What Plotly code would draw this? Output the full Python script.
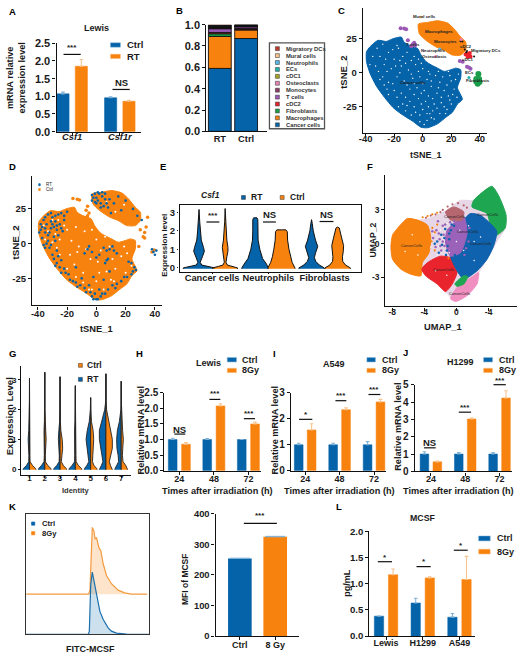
import plotly.graph_objects as go

BLUE = "#0563A9"; ORANGE = "#F8820E"; LBLUE = "#7FB2D6"; LORANGE = "#F8C48E"
FONT = "Liberation Sans"; INK = "#1a1a1a"

# ---------- data ----------
A_CATS = ["Csf1", "Csf1r"]
A_CTRL = [1.07, 0.96]; A_RT = [1.85, 0.86]
A_CTRL_ERR = [0.05, 0.03]; A_RT_ERR = [0.19, 0.03]

B_NAMES = ["Cancer cells", "Macrophages", "Fibroblasts", "cDC2", "T cells", "Monocytes", "Osteoclasts",
           "cDC1", "ECs", "Neutrophils", "Mural cells", "Migratory DCs"]
B_COLORS = ["#0563A9", "#F8820E", "#1B9E4B", "#E8202A", "#9B59B6", "#8B3A62", "#E984B8",
            "#A5A520", "#20B2AA", "#58B7E8", "#F5C68A", "#C0392B"]
B_RT = [.59, .30, .025, .012, .035, .006, .005, .005, .005, .005, .005, .006]
B_CTRL = [.87, .08, .005, .01, .015, .004, .003, .003, .003, .003, .002, .002]

CANCER_X = [-37, -31.3, -25.5, -20.8, -15, -13.2, -9.3, -3.5, -1.2, 2.3, 5.8, 10.4, 15, 19.7, 23.1, 26.6, 26.6, 24.3,
            27.8, 24.3, 20.8, 16.2, 10.4, 3.5, -1.2, -7, -15, -20.8, -26.6, -32.4, -37, -39.4, -39.4]
CANCER_Y = [19, 23.8, 23, 25, 26.2, 22.6, 20.2, 17.8, 13, 8.2, 5.8, 3.4, 1, 2.2, 3.4, 2.2, -3.8, -11, -19.5, -23, -29,
            -32.7, -37.5, -40.4, -40, -35.6, -30.3, -25.5, -18.3, -9.9, -0.2, 8.2, 15.4]
MACRO_X = [-3, 3.5, 10.4, 17.4, 22, 26.6, 30.1, 30.1, 26.6, 20.8, 15, 9.3, 2.3, -2.3]
MACRO_Y = [35.8, 37, 38.2, 36.5, 32.2, 26.2, 22.6, 16.6, 13, 13, 16.6, 19, 23.8, 28.6]
C_SPECKS = [(-30, 12), (-27, 6), (-33, 5), (-24, 15), (-20, 10), (-22, 3), (-17, 18), (-14, 12), (-11, 15), (-8, 9),
            (-15, 5), (-10, 2), (-5, 6), (-3, 10), (0, 3), (4, 1), (-28, -3), (-24, -7), (-18, -3), (-13, -6), (-7, -4),
            (-2, -3), (3, -5), (9, -2), (14, -3), (19, -2), (23, -5), (-20, -13), (-15, -15), (-9, -12), (-4, -11),
            (1, -13), (6, -10), (11, -11), (17, -9), (22, -12), (-14, -23), (-9, -21), (-3, -19), (2, -21), (7, -19),
            (13, -18), (18, -17), (24, -18), (-5, -29), (0, -27), (5, -30), (10, -26), (15, -25), (20, -23), (-2, -36),
            (3, -35), (-35, 12), (-25, -12), (-30, -5), (-18, 20), (8, -34), (-12, -28), (16, -30),
            (-37, 6), (-32, 18), (-28, 21), (-21, 17), (-26, 10), (-16, 9), (-12, 7), (-19, 5), (-6, 12), (-1, 7), (-31, 1),
            (-25, 1), (-16, 0), (-8, -1), (-3, 1), (5, -1), (11, 1), (18, 1), (25, -1), (-27, -9), (-21, -8), (-11, -9),
            (-6, -8), (0, -8), (6, -6), (12, -7), (20, -6), (-24, -16), (-18, -18), (-12, -18), (-6, -16), (-1, -15),
            (4, -17), (10, -15), (15, -13), (21, -16), (-17, -25), (-11, -24), (-6, -25), (-1, -23), (4, -25), (8, -23),
            (13, -22), (19, -20), (-8, -31), (-2, -31), (3, -30), (7, -28), (12, -30), (17, -27), (1, -38), (6, -33)]
C_TCELLS = [(-7, 21), (-5.5, 20), (-8, 19.5), (-6, 22), (-15.5, 32.7), (-11.6, 32), (-13, 32.5), (-10.4, 23.8),
            (32.4, 3.8), (31, 4.5), (33.5, 3), (26, 8.6), (28, 8)]
C_FIBRO = [(38.7, -5.8), (37.5, -6.5), (39.5, -4.5), (38.5, -8), (37.5, -4.5), (39.8, -6.8), (39, -1)]
C_CDC2 = [(32.4, 13), (31, 14), (33.5, 12), (31.5, 11.5), (30, 13.5), (33, 14.5)]
C_BLACK = [(27.8, 23), (26.5, 23.2), (29.5, 17), (30.5, 15), (31, 16), (36, 12)]
C_OTHER = [(32.4, -3.4), (27, 24.5), (-1.5, 41), (12, 17.5), (9, 12)]
C_OTHER_COL = ["#20B2AA", "#E984B8", "#F5C68A", "#58B7E8", "#E984B8"]
C_LABELS = ["Mural cells", "Macrophages", "Monocytes", "T cells", "Neutrophils", "Osteoclasts", "cDC2",
            "Migratory DCs", "cDC1", "ECs", "Fibroblasts", "Cancer cells"]
C_LABEL_X = [1, 11.5, 16, -7, 7, 8, 30.5, 44, 32, 32.5, 38.5, -6.5]
C_LABEL_Y = [41, 30, 23, 20.5, 16.5, 12, 19.5, 16, 10, 0, -6, -7]

D_BLUE = [(-36, 17), (-34, 14), (-38, 10), (-35, 8), (-37, 4), (-33, 2), (-32, -3), (-36, -1), (-30, 19), (-28, 16),
          (-26, 21), (-31, 11), (-27, 10), (-29, 5), (-25, 14), (-22, 20), (-20, 23), (-23, 9), (-30, -8), (-27, -5),
          (-24, -12), (-27, -14), (-22, -18), (-19, -22), (-24, -21), (-16, -27), (-13, -31), (-10, -25), (-7, -35),
          (-3, -38), (0, -40), (3, -38), (2, -33), (6, -36), (-5, -30), (11, -30), (14, -29), (19, -24), (25, -20),
          (27, -19), (22, -13), (7, -12), (5, -3), (11, -2), (14, -7), (-5, -2), (-8, -7), (2, -8), (-14, -17),
          (-2, -24), (9, -20), (5, -26), (-33, 6), (-31, 16), (-38, 14), (-34, 0), (-29, 12),
          (-35, 19), (-33, 21), (-31, 22), (-28, 20), (-24, 22), (-22, 17), (-37, 12), (-39, 8), (-35, 11), (-32, 8),
          (-30, 14), (-27, 13), (-24, 11), (-28, 2), (-26, 6), (-31, -1), (-35, -3), (-29, -11), (-26, -9), (-28, -16),
          (-25, -17), (-21, -21), (-18, -26), (-14, -28), (-11, -30), (-8, -32), (-4, -35), (-1, -36), (1, -40), (4, -36),
          (-2, -40), (8, -33), (13, -32), (17, -27), (21, -24), (24, -22), (26, -17), (24, -14), (7, -5), (9, -4), (12, -5),
          (6, -14), (8, -11), (-6, -4), (-3, -6), (0, -10),
          (-3, 35), (0, 33), (-1, 30), (2, 36), (4, 34), (3, 29), (6, 36), (9, 32), (5, 27), (12, 29), (15, 34),
          (20, 31), (25, 25), (28, 20), (31, 17), (17, 24), (10, 22), (8, 26), (-2, 33), (1, 37), (-3, 31),
          (-1, 36), (1, 31), (4, 37), (6, 32), (7, 29), (3, 26), (0, 29), (39, -6), (38, -4), (40, -8), (41, -5)]
D_ORANGE_EXTRA = [(-16, 32.5), (-13, 32), (-11.5, 31.5), (-6, 27), (-5, 22), (-7, 24), (-6, 20), (38, -6), (39.5, -4.5),
                  (32, 5), (33, 4), (29, -2), (33, 8), (30, 10), (34, 12), (35, 19)]
D_WHITE = [(-20, 10), (-14, 12), (-8, 9), (-3, 10), (0, 3), (-13, -6), (-7, -4), (3, -5), (9, -2), (19, -2),
           (-15, -15), (-4, -11), (1, -13), (11, -11), (17, -9), (-9, -21), (2, -21), (13, -18), (0, -27), (10, -26),
           (6, 5), (4, 8), (13, 23), (19, 28), (7, 30), (-25, 3), (-18, -8), (-30, 1), (-5, -33), (21, -7),
           (-36, 13), (-33, 9), (-28, 7), (-30, 17), (-26, 17), (-35, 3), (-27, -3), (-25, -8), (-20, -18), (-14, -24),
           (-9, -28), (-3, -33), (5, -33), (12, -27), (20, -21), (24, -16), (-12, -2), (-22, 13), (-17, 2), (7, -20)]

E_CATS = ["Cancer cells", "Neutrophils", "Fibroblasts"]
E_PROFILES = [
    ([-.05, 0, .08, .15, .3, .6, .9, 1.1, 1.5, 2, 2.5, 3.15], [.28, .28, .16, .05, .02, .06, .095, .08, .04, .025, .012, 0]),
    ([-.05, 0, .08, .15, .3, .6, .9, 1.1, 1.5, 2, 2.5, 3.2], [.22, .22, .12, .04, .015, .03, .05, .05, .03, .015, .008, 0]),
    ([-.05, 0, .2, .5, 1, 1.5, 2, 2.6, 2.7, 2.7], [.24, .24, .2, .13, .08, .05, .045, .045, .03, 0]),
    ([-.05, 0, .3, .6, 1, 1.5, 1.95, 2.05, 2.05], [.24, .24, .19, .16, .135, .11, .105, .08, 0]),
    ([-.05, 0, .15, .35, .55, .8, 1.15, 1.5, 2, 2.4, 2.6], [.225, .225, .14, .075, .05, .07, .11, .07, .03, .012, 0]),
    ([-.05, 0, .15, .35, .6, .9, 1.2, 1.6, 2.0, 2.15, 2.2], [.225, .225, .14, .09, .085, .1, .105, .075, .04, .03, 0]),
]

F_CLUSTERS = [
    ("#E6D6E6", [-7.33, -6.09, -4.86, -3.62, -1.36, 0.49, 2.14, 4.4, 5.23, 6.17, 6.05, 5.02, 3.79, 2.76, 1.32, -0.12, -1.36, -4.32, -5.68, -7.94, -8.15],
     [1.37, 2.24, 2.1, 2.2, 2.9, 3.85, 3.85, 5.1, 4.29, 2.54, 1.37, 0.2, -1.4, -2.57, -4.61, -5.13, -4.26, -2.3, -2.71, -1.4, -0.23]),
    ("#F8820E", [-7.33, -6.09, -4.86, -3.62, -3.21, -3.42, -4.24, -4.44, -5.68, -6.91, -7.94, -8.15, -7.94],
     [1.37, 2.24, 2.1, 1.66, 0.64, -0.82, -1.69, -2.86, -2.71, -2.27, -1.4, -0.23, 0.79]),
    ("#E9242C", [-3.62, -1.98, -0.12, 0.08, -0.53, -1.36, -2.39, -3.83, -4.32], [-1.69, -1.11, -1.4, -2.57, -3.59, -4.26, -3.59, -2.86, -2.27]),
    ("#F08FC0", [-0.74, 0.08, 2.14, 2.76, 2.55, 1.32, -0.12], [-4.9, -3.88, -2.86, -2.57, -3.59, -4.61, -5.13]),
    ("#1FA650", [2.14, 4.4, 5.23, 6.17, 6.05, 4.61, 3.79, 1.93], [3.85, 5.1, 4.29, 2.54, 1.37, 0.64, 2.68, 3.27]),
    ("#0F62AE", [1.73, 2.96, 4.2, 5.02, 4.61, 3.79, 2.55, 0.91, 0.08, -0.74, -0.53, 0.08, 0.91],
     [2.68, 2.54, 1.81, 1.08, -0.23, -1.4, -2.42, -3.15, -2.42, -1.11, -0.23, 0.93, 2.1]),
    ("#9A62B8", [-1.15, 0.91, 1.32, 0.49, -0.74, -1.36], [1.22, 2.39, 0.93, -0.82, -1.11, 0.06]),
    ("#B5666F", [-1.36, -0.33, 0.91, 0.7, -0.74], [2.83, 3.27, 2.83, 2.1, 2.1]),
    ("#1FA650", [-0.2, 0.91, 1.4, 0.91, 0.08], [-3.59, -2.86, -2.92, -3.59, -3.79]),
]
F_SPECKS_PURPLE = [(-2.5, 1.2), (-2.1, 0.4), (-1.7, 1.6), (-2.6, -0.3), (-1.9, -0.6), (-2.9, 0.5), (-1.6, 0.8), (-2.3, 2.0), (-1.5, -0.2), (-3, 1.1),
                   (-2.0, -0.2), (-1.7, 0.2), (-2.2, 0.9), (-1.4, 1.7), (-0.8, 1.9), (-0.3, 2.0), (1.5, 0.2), (1.2, -0.4), (1.6, 1.4), (1.0, -1.0)]
F_SPECKS_BLUE = [(-1.2, -0.6), (-0.9, 0.4), (-0.7, 1.2), (-1.8, -0.1), (-1.4, 1.3), (-0.3, 1.6), (-2.2, -0.8), (-0.2, -1.0), (-2.7, 0.0),
                 (-1.5, 0.5), (-1.1, -0.2), (-0.9, 0.9), (-1.9, 0.8), (-1.3, -1.0), (-0.6, 1.7), (-0.2, -1.4), (0.1, -1.7), (0.3, -2.1), (-2.4, 0.2)]
F_SPECKS_ORANGE = [(-3.1, 0.2), (-3.0, 1.4), (-2.7, -0.6), (-2.4, 1.7), (-4.2, 2.35), (-3.6, 2.45), (-3.0, 2.6), (-2.4, 2.75), (-2.7, 1.0), (-1.0, -1.3)]
F_SPECKS_MAUVE = [(-3.8, 2.3), (-3.2, 2.5), (-2.6, 2.6), (-2.0, 2.8), (-1.7, 3.0), (-1.1, 3.3), (0.2, 3.6), (0.9, 3.4), (1.3, 3.2), (-0.5, 3.5)]
F_SPECKS_WHITE = [(-2.8, 0.9), (-2.2, -0.2), (-1.6, 0.3), (-2.0, 1.2), (-1.2, 1.8), (-3.2, -0.3), (-2.4, -1.0), (-0.9, -0.8),
                  (0.4, 1.2), (0.0, 0.2), (0.9, -0.6), (2.2, -1.5), (1.5, 1.6), (3, 0.6), (2.2, 0.2), (-5.5, 0.8), (-6.4, -0.7),
                  (-4.8, -1), (-2.6, -2.4), (-1.2, -2.8)]
F_LABEL_X = [-5.6, -0.3, 3.8, 1.4, 3.0, -1.6, 0.4]
F_LABEL_Y = [-0.1, 2.4, 2.65, 1.08, 0.05, -2.3, -4.4]

G_LEVELS = [-.02, .02, .12, .25, .45, .7, 1.0, 1.3, 1.6, 2.0, 2.3]
G_TOPS = [3.05, 3.25, 3.1, 2.8, 2.4, 3.2, 2.95]
G_RT = [[.42, .40, .2, .05, .04, .05, .09, .05, .025, .012, .006],
        [.42, .40, .22, .05, .03, .04, .05, .05, .025, .012, .006],
        [.42, .40, .22, .06, .05, .08, .11, .08, .03, .015, .006],
        [.42, .40, .22, .05, .04, .05, .08, .05, .025, .012, .006],
        [.42, .40, .25, .12, .17, .25, .3, .22, .09, .02, .006],
        [.42, .40, .3, .2, .26, .34, .43, .43, .3, .08, .01],
        [.42, .40, .3, .17, .2, .28, .3, .25, .12, .02, .006]]
G_CTRL = [[.42, .40, .2, .04, .03, .03, .03, .02, .012, .008, .004],
          [.42, .40, .2, .04, .03, .06, .09, .06, .02, .01, .005],
          [.42, .40, .22, .08, .12, .17, .14, .05, .02, .01, .005],
          [.42, .40, .2, .05, .04, .04, .05, .03, .02, .01, .005],
          [.42, .40, .22, .12, .14, .16, .2, .16, .05, .012, .004],
          [.42, .40, .3, .22, .3, .42, .42, .3, .16, .04, .008],
          [.42, .40, .3, .12, .08, .1, .14, .09, .05, .015, .005]]

TIMES = ["24", "48", "72"]
H_CTRL = [1.0, 1.0, 1.0]; H_GY = [0.85, 2.08, 1.5]; H_CTRL_ERR = [.04, .03, .0]; H_GY_ERR = [.05, .07, .06]
I_CTRL = [1.0, 1.0, 1.0]; I_GY = [1.57, 2.35, 2.65]; I_CTRL_ERR = [.06, .06, .12]; I_GY_ERR = [.24, .07, .1]
J_CTRL = [1.0, 1.0, 1.0]; J_GY = [.55, 3.02, 4.23]; J_CTRL_ERR = [.13, .08, .08]; J_GY_ERR = [.04, .05, .42]

K_BLUE_X = [0, 50.7, 51.5, 52.6, 53.9, 55.3, 57.4, 60.1, 62.8, 66.8, 69.5, 73.6, 81.7, 100]
K_BLUE_Y = [0, 0, 2.7, 40.9, 51.8, 43.6, 32.7, 19.1, 12.3, 5.4, 2.7, 1.1, .3, 0]
K_OR_X = [0, 50.9, 52, 52.8, 53.9, 55.3, 56.1, 57.4, 59.3, 60.9, 62.8, 65.5, 69.5, 74.9, 80.3, 85.7, 98.6]
K_OR_Y = [33.5, 33.5, 36.8, 68.1, 89.1, 85.8, 79.6, 80.4, 72.2, 69.5, 58.6, 49, 42.2, 36.8, 34.6, 33.5, 33.5]
K_CATS = ["Ctrl", "8 Gy"]; K_MFI = [254, 325]; K_MFI_ERR = [1, 1.5]

L_CATS = ["Lewis", "H1299", "A549"]
L_CTRL = [.38, .63, .36]; L_GY = [1.17, 1.11, 1.08]; L_CTRL_ERR = [0, .09, .07]; L_GY_ERR = [.11, .02, .44]

# ---------- helpers ----------
W, H = 520, 660
fig = go.Figure()
layout = dict(width=W, height=H, margin=dict(l=0, r=0, t=0, b=0), paper_bgcolor="white", plot_bgcolor="white",
              showlegend=False, barmode="overlay", font=dict(family=FONT, color=INK))
annots, shapes = [], []
_n = [0]

def T(px, py, text, size=9, anchor="center", angle=0, bold=True, color=INK, italic=False):
    annots.append(dict(xref="paper", yref="paper", x=px / W, y=1 - py / H, text=text, showarrow=False, xanchor=anchor,
                       yanchor="middle", textangle=angle, align="center",
                       font=dict(family=FONT, size=size, color=color, weight=700 if bold else 400,
                                 style="italic" if italic else "normal")))

def R(x0, y0, x1, y1, fill, line=None, lw=0.7):
    shapes.append(dict(type="rect", xref="paper", yref="paper", x0=x0 / W, x1=x1 / W, y0=1 - y0 / H, y1=1 - y1 / H,
                       fillcolor=fill, line=dict(color=line or fill, width=lw), layer="above"))

def Ln(x0, x1, y, color="#111", lw=1.2):
    shapes.append(dict(type="line", xref="paper", yref="paper", x0=x0 / W, x1=x1 / W, y0=1 - y / H, y1=1 - y / H,
                       line=dict(color=color, width=lw), layer="above"))

def Sig(x0, x1, ly, text, ty):
    Ln(x0, x1, ly)
    T((x0 + x1) / 2, ty, text, size=9.5 if text == "NS" else 8)

def axes(L, Rt, Top, Bot, xr, yr, xt=None, xl=None, yt=None, yl=None, tick=9.5, mirror=False, xital=False, noticks=False,
         stand=0, xtick=None, tlen=3):
    _n[0] += 1
    s = "" if _n[0] == 1 else str(_n[0])
    tf = dict(family=FONT, size=tick, color=INK, weight=700)
    common = dict(showgrid=False, zeroline=False, showline=True, linecolor="#111", linewidth=1.4, ticks="outside",
                  ticklen=tlen, tickwidth=1.2, tickcolor="#111", tickfont=tf, mirror=mirror, fixedrange=True, tickangle=0)
    xa = dict(common, domain=[L / W, Rt / W], range=xr, anchor="y" + s, tickmode="array", tickvals=xt, ticktext=xl)
    ya = dict(common, domain=[1 - Bot / H, 1 - Top / H], range=yr, anchor="x" + s, tickmode="array", tickvals=yt, ticktext=yl)
    xa["tickfont"] = dict(tf, size=xtick or tick)
    if xital:
        xa["tickfont"] = dict(xa["tickfont"], style="italic")
    if noticks:
        for a in (xa, ya):
            a.update(ticks="", showticklabels=False)
    if stand:
        xa["ticklabelstandoff"] = stand
    layout["xaxis" + s] = xa
    layout["yaxis" + s] = ya
    return "x" + s, "y" + s

def grouped(ctrl, other, cerr, oerr, L, Rt, Top, Bot, c0, sp, bw, off, yr, yt, yl, xl, **kw):
    xr = [(L - c0) / sp, (Rt - c0) / sp]
    xa, ya = axes(L, Rt, Top, Bot, xr, yr, list(range(len(xl))), xl, yt, yl, **kw)
    for vals, err, col, ecol, sign in ((ctrl, cerr, BLUE, LBLUE, -1), (other, oerr, ORANGE, LORANGE, 1)):
        fig.add_trace(go.Bar(x=[i + sign * off / sp for i in range(len(vals))], y=vals, width=bw / sp, xaxis=xa, yaxis=ya,
                             marker=dict(color=col, line=dict(color=col, width=0.5)),
                             error_y=dict(type="data", array=err, symmetric=False, arrayminus=[0] * len(err),
                                          color=ecol, thickness=1.1, width=1.8)))

def blob(xs, ys, col, xa, ya, lw=0):
    fig.add_trace(go.Scatter(x=xs + xs[:1], y=ys + ys[:1], mode="lines", fill="toself", fillcolor=col, xaxis=xa, yaxis=ya,
                             line=dict(color=col, width=lw, shape="spline", smoothing=0.6), hoverinfo="skip"))

def dots(pts, col, xa, ya, size=2.0, sym="circle"):
    fig.add_trace(go.Scatter(x=[p[0] for p in pts], y=[p[1] for p in pts], mode="markers", xaxis=xa, yaxis=ya,
                             marker=dict(color=col, size=size, symbol=sym, line=dict(width=0)), hoverinfo="skip"))

def pair_legend(xr0, xr1, tx, y1, y2, label2, size=9.5, h=4.5):
    R(xr0, y1 - h / 2, xr1, y1 + h / 2, BLUE, LBLUE, 0.5)
    R(xr0, y2 - h / 2, xr1, y2 + h / 2, ORANGE, LORANGE, 0.5)
    T(tx, y1, "Ctrl", size=size, anchor="left")
    T(tx, y2, label2, size=size, anchor="left")

# ---------- A ----------
grouped(A_CTRL, A_RT, A_CTRL_ERR, A_RT_ERR, 53, 138, 38, 128, 68.7, 48, 12.3, 9.25, [0, 2.5],
        [0, .5, 1, 1.5, 2, 2.5], ["0.0", "0.5", "1.0", "1.5", "2.0", "2.5"], A_CATS, xital=True, tick=11, xtick=9.3, stand=-7)
T(93, 22, "Lewis", 9)
T(12, 73, "mRNA relative<br>expression level", 9.2, angle=-90)
pair_legend(107.3, 117.3, 122, 39.7, 51.3, "RT", 9.5)
Sig(60, 77.3, 49.3, "***", 42)
Sig(109.3, 126.7, 85, "NS", 78.3)

# ---------- B ----------
xa, ya = axes(204, 265, 19, 127.7, [(204 - 217.5) / 26.5, (265 - 217.5) / 26.5], [0, 1],
              [0, 1], ["RT", "Ctrl"], [0, .2, .4, .6, .8, 1], ["0.0", "0.2", "0.4", "0.6", "0.8", "1.0"], tick=11, xtick=9.3, stand=-2)
layout[xa.replace("x", "xaxis")]["ticklen"] = 0
cum = [0, 0]
for name, col, r, c in zip(B_NAMES, B_COLORS, B_RT, B_CTRL):
    fig.add_trace(go.Bar(x=[0, 1], y=[r, c], base=list(cum), width=23 / 26.5, xaxis=xa, yaxis=ya, name=name,
                         marker=dict(color=col, line=dict(color="#111", width=0.9))))
    cum = [cum[0] + r, cum[1] + c]
R(267.5, 37.5, 323, 125, "white", "#555", 1.3)
for i, (name, col) in enumerate(zip(B_NAMES, B_COLORS)):
    y = 121 - i * 7.05
    R(273.5, y - 2, 277.5, y + 2, col, "#444", 0.6)
    T(282, y, name, 5.8, anchor="left", color="#333")

# ---------- C ----------
xa, ya = axes(361.7, 486.7, 2, 129, [-41.9, 45], [-44, 47.6], [-40, -20, 0, 20, 40], ["-40", "-20", "0", "20", "40"],
              [-25, 0, 25], ["-25", "0", "25"], tick=9.5, stand=-6)
blob(CANCER_X, CANCER_Y, BLUE, xa, ya, 1)
blob(MACRO_X, MACRO_Y, ORANGE, xa, ya, 1)
dots(C_SPECKS, "white", xa, ya, 1.4)
dots(C_TCELLS, "#9B59B6", xa, ya, 4)
dots(C_FIBRO, "#1B9E4B", xa, ya, 6)
dots(C_CDC2, "#E8202A", xa, ya, 4)
dots(C_BLACK, "#111", xa, ya, 2)
for p, col in zip(C_OTHER, C_OTHER_COL):
    dots([p], col, xa, ya, 3)
for t, x, y in zip(C_LABELS, C_LABEL_X, C_LABEL_Y):
    px = 422 + x * 1.44
    py = 68 - y * 1.386
    T(px, py, t, 4.3, color="#222")
T(425, 152, "tSNE_1", 9)
T(342.7, 68, "tSNE_2", 9.5, angle=-90)

# ---------- D ----------
xa, ya = axes(28.3, 159, 173, 305, [-43.9, 44.7], [-44.5, 48.8], [-40, -20, 0, 20, 40], ["-40", "-20", "0", "20", "40"],
              [-25, 0, 25], ["-25", "0", "25"], tick=9.5, stand=-4)
blob(CANCER_X, CANCER_Y, ORANGE, xa, ya, 1)
blob(MACRO_X, MACRO_Y, ORANGE, xa, ya, 1)
dots(D_ORANGE_EXTRA, ORANGE, xa, ya, 3.5)
dots(D_WHITE, "white", xa, ya, 2)
dots(D_BLUE, BLUE, xa, ya, 2.6)
R(35, 181, 36.5, 183, BLUE)
R(35, 186, 36.5, 188, ORANGE)
T(40, 182, "RT", 4.5, anchor="left", bold=False)
T(40, 187, "Ctrl", 4.5, anchor="left", bold=False)
T(93, 329, "tSNE_1", 9.3)
T(12, 240, "tSNE_2", 9.8, angle=-90)

# ---------- E ----------
E_SP = 56.7
xa, ya = axes(177, 360, 202.7, 270.7, [(177 - 209.7) / E_SP, (360 - 209.7) / E_SP], [-0.21, 3.39], [0, 1, 2], E_CATS,
              [0, 1, 2, 3], ["0", "1", "2", "3"], tick=9.5, xtick=9.3, mirror=True, stand=-5, tlen=1.5)
for i, (ys, ws) in enumerate(E_PROFILES):
    c = i // 2 + (-0.232 if i % 2 == 0 else 0.232)
    col = BLUE if i % 2 == 0 else ORANGE
    fig.add_trace(go.Scatter(x=[c - w for w in ws] + [c + w for w in ws[::-1]], y=ys + ys[::-1], mode="lines", fill="toself",
                             fillcolor=col, line=dict(color="#111", width=1), xaxis=xa, yaxis=ya, hoverinfo="skip"))
T(208, 193, "Csf1", 8.5, italic=True)
R(239.3, 193, 243.3, 197, BLUE, "#333", 0.5); T(247, 195, "RT", 8.5, anchor="left")
R(278.3, 193, 282.3, 197, ORANGE, "#333", 0.5); T(286, 195, "Ctrl", 8.5, anchor="left")
Sig(204, 217, 220, "***", 213)
Sig(261, 274, 220, "NS", 212)
Sig(318, 332, 219.5, "NS", 212)
T(161.5, 244, "Expression level", 8, angle=-90)

# ---------- F ----------
xa, ya = axes(384.3, 516.7, 172, 306, [-8.85, 7.5], [-5.58, 6.12], [-8, -4, 0, 4], ["-8", "-4", "0", "-4"],
              [-3, 0, 3], ["-3", "0", "3"], tick=8.5, stand=-6)
for col, xs, ys in F_CLUSTERS:
    blob(xs, ys, col, xa, ya, 1)
dots(F_SPECKS_WHITE, "white", xa, ya, 1.5)
dots(F_SPECKS_PURPLE, "#9A62B8", xa, ya, 2.5)
dots(F_SPECKS_BLUE, "#0F62AE", xa, ya, 2.5)
dots(F_SPECKS_ORANGE, "#F8820E", xa, ya, 2.2)
dots(F_SPECKS_MAUVE, "#B5666F", xa, ya, 2.2)
for x, y in zip(F_LABEL_X, F_LABEL_Y):
    T(456 + x * 8.1, 242.3 - y * 11.45, "CancerCells", 3.9, color="#222", bold=False)
T(442.7, 327, "UMAP_1", 9.3)
T(371.7, 238, "UMAP_2", 8.6, angle=-90)

# ---------- G ----------
xa, ya = axes(17.3, 128.3, 366.7, 477.3, [0.455, 7.66], [-0.185, 3.46], [1, 2, 3, 4, 5, 6, 7], list("1234567"),
              [0, 1, 2, 3], ["0", "1", "2", "3"], tick=8, stand=-6, tlen=2)
for i in range(7):
    c = i + 1
    ys = G_LEVELS + [G_TOPS[i]]
    for ws, col, sign in ((G_RT[i], BLUE, -1), (G_CTRL[i], ORANGE, 1)):
        ww = ws + [0]
        fig.add_trace(go.Scatter(x=[c + sign * w for w in ww] + [c], y=ys + [ys[0]], mode="lines", fill="toself",
                                 fillcolor=col, line=dict(color="#222", width=0.9), xaxis=xa, yaxis=ya, hoverinfo="skip"))
R(75, 364, 79, 368, ORANGE, "#333", 0.5); T(82, 366, "Ctrl", 8.5, anchor="left")
R(75, 378.3, 79, 382.3, BLUE, "#333", 0.5); T(82, 380.3, "RT", 8.5, anchor="left")
T(72, 493, "Identity", 7.5, color="#333")
T(5, 418, "Expression Level", 9.5, angle=-90)

# ---------- H / I / J ----------
grouped(H_CTRL, H_GY, H_CTRL_ERR, H_GY_ERR, 161.7, 259, 394, 473.3, 176.7, 34.8, 8.8, 6.7, [0, 2.5],
        [0, .5, 1, 1.5, 2, 2.5], ["0.0", "0.5", "1.0", "1.5", "2.0", "2.5"], TIMES, tick=10, xtick=9, stand=-4)
T(205.7, 364, "Lewis", 9)
pair_legend(225, 234.3, 238, 360.3, 371.2, "8Gy", 9)
Sig(171.7, 182.7, 436, "NS", 431)
Sig(207, 218, 400.7, "***", 395)
Sig(241.7, 253, 420.3, "***", 415)
T(215, 494, "Times after irradiation (h)", 9.2)
T(137.7, 431.7, "Relative mRNA level", 9.2, angle=-90)

grouped(I_CTRL, I_GY, I_CTRL_ERR, I_GY_ERR, 289.3, 385, 394, 473.3, 303.5, 34.7, 8.8, 6.5, [0, 3],
        [0, 1, 2, 3], ["0", "1", "2", "3"], TIMES, tick=10, xtick=9, stand=-4)
T(332.7, 365, "A549", 9)
pair_legend(365.7, 374.3, 379.3, 360.3, 371.2, "8Gy", 9)
Sig(297.3, 310.7, 421, "*", 416.5)
Sig(334, 345, 402, "***", 397)
Sig(367.3, 379.3, 395.7, "***", 390.5)
T(338, 494, "Times after irradiation (h)", 9.2)
T(272.7, 431.7, "Relative mRNA level", 9.2, angle=-90)

grouped(J_CTRL, J_GY, J_CTRL_ERR, J_GY_ERR, 414, 511.7, 385.7, 474, 430.2, 34.6, 8.7, 6.5, [0, 5],
        [0, 1, 2, 3, 4, 5], ["0", "1", "2", "3", "4", "5"], TIMES, tick=10, xtick=9, stand=-4)
T(460, 363, "H1299", 9)
pair_legend(483.3, 492.3, 497.3, 360.3, 371.2, "8Gy", 9)
Sig(423.3, 435, 450, "NS", 445)
Sig(458.3, 470.7, 413.7, "***", 409)
Sig(493.3, 505.7, 385.7, "***", 381)
T(458, 494, "Times after irradiation (h)", 9.2)
T(397.7, 428, "Relative mRNA level", 9.2, angle=-90)

# ---------- K histogram ----------
xa, ya = axes(22.3, 146, 517.7, 640, [0, 100], [0, 100], mirror=True, noticks=True)
layout["xaxis" + xa[1:]]["linecolor"] = "#333"
layout["yaxis" + ya[1:]]["linecolor"] = "#333"
fig.add_trace(go.Scatter(x=K_OR_X, y=K_OR_Y, mode="lines", fill="toself", fillcolor="rgba(248,130,14,0.22)",
                         line=dict(color="#F39A3E", width=1.2), xaxis=xa, yaxis=ya, hoverinfo="skip"))
fig.add_trace(go.Scatter(x=K_BLUE_X, y=K_BLUE_Y, mode="lines", fill="toself", fillcolor="rgba(5,99,169,0.2)",
                         line=dict(color="#1B6FAE", width=1.2), xaxis=xa, yaxis=ya, hoverinfo="skip"))
R(27.8, 525.6, 31, 528.8, BLUE); T(36, 527.2, "Ctrl", 7.6, anchor="left")
R(27.8, 535.4, 31, 538.6, ORANGE); T(36, 537, "8Gy", 7.6, anchor="left")
T(87.3, 655, "FITC-MCSF", 9)

# ---------- K bars ----------
xa, ya = axes(213.3, 297, 517.3, 641.7, [(213.3 - 237.7) / 35.6, (297 - 237.7) / 35.6], [0, 400], [0, 1], K_CATS,
              [0, 100, 200, 300, 400], ["0", "100", "200", "300", "400"], tick=9.4, xtick=9, stand=-3)
fig.add_trace(go.Bar(x=[0, 1], y=K_MFI, width=23.8 / 35.6, xaxis=xa, yaxis=ya, marker=dict(color=[BLUE, ORANGE], line=dict(width=0)),
                     error_y=dict(type="data", array=K_MFI_ERR, symmetric=False, arrayminus=[0, 0], color="#7FB2D6", thickness=1, width=10)))
Sig(241.7, 275, 527, "***", 518.5)
T(183, 584, "MFI of MCSF", 8.5, angle=-90)

# ---------- L ----------
grouped(L_CTRL, L_GY, L_CTRL_ERR, L_GY_ERR, 368.3, 475, 535, 641.7, 385, 37, 9.4, 7.1, [0, 2],
        [0, .5, 1, 1.5, 2], ["0.0", "0.5", "1.0", "1.5", "2.0"], L_CATS, tick=9.6, xtick=9, stand=-5)
T(422.7, 521, "MCSF", 8.8)
pair_legend(478.3, 490, 495, 542.3, 555.7, "8Gy", 9, h=5)
Sig(376.7, 391, 566, "*", 561.5)
Sig(415.7, 430, 571, "*", 566)
Sig(453.3, 467.3, 554.3, "*", 549.5)
T(346, 588, "pg/mL", 9, angle=-90)

# ---------- panel letters ----------
for letter, x, y in [("A", 9, 6), ("B", 176.7, 5), ("C", 340, 5), ("D", 8.7, 163), ("E", 160.7, 163), ("F", 369, 163),
                     ("G", 9, 354), ("H", 137, 354), ("I", 272.7, 354), ("J", 405, 353), ("K", 9, 510), ("L", 338, 510)]:
    T(x, y, letter, 9.5, color="#000")

layout["annotations"] = annots
layout["shapes"] = shapes
fig.update_layout(**layout)
fig.write_html("out.html", config={"displayModeBar": False},
               post_script="document.body.style.margin='0';document.body.style.overflow='hidden';")
